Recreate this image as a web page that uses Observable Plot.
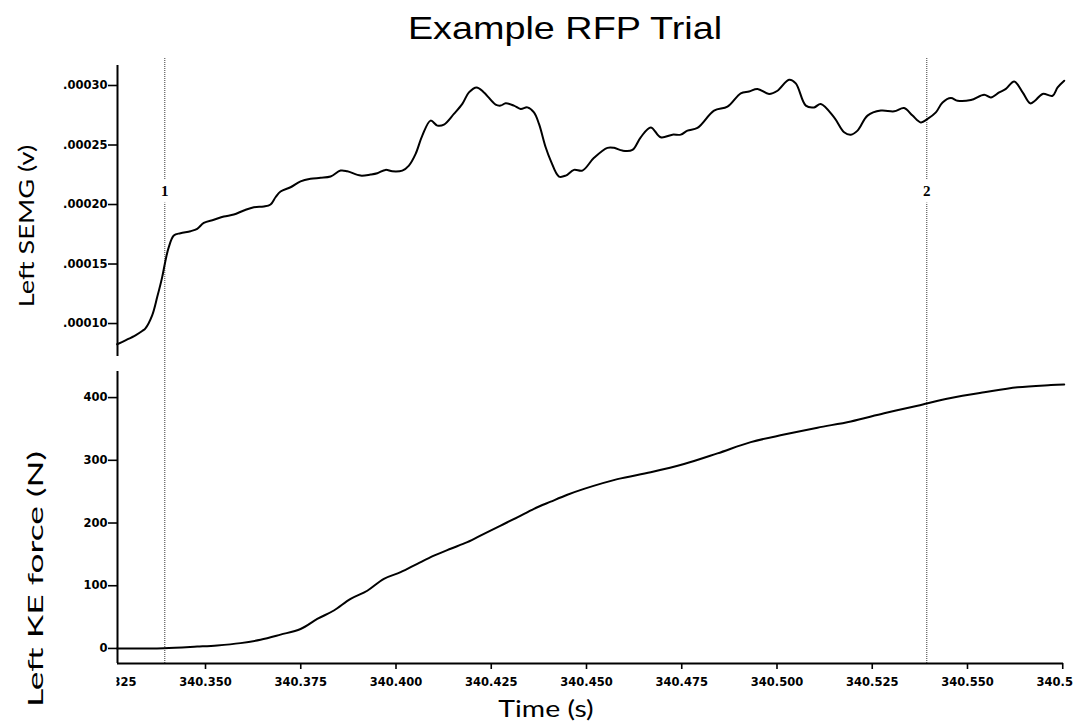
<!DOCTYPE html>
<html><head><meta charset="utf-8">
<script src="https://cdn.jsdelivr.net/npm/d3@7"></script>
<script src="https://cdn.jsdelivr.net/npm/@observablehq/plot@0.6"></script>
<style>
html,body{margin:0;padding:0;background:#fff;}
#wrap{position:relative;width:1073px;height:728px;overflow:hidden;background:#fff;}
.abs{position:absolute;white-space:nowrap;}
#title{font-family:"Liberation Sans",Arial,sans-serif;font-size:32px;line-height:1;color:#000;}
.axt{font-family:Lato,"Open Sans",sans-serif;color:#000;line-height:1;}
</style></head>
<body><div id="wrap">
<div id="title" class="abs">Example RFP Trial</div>
<div id="topChart" class="abs" style="left:0;top:58px"></div>
<div id="botChart" class="abs" style="left:0;top:360px"></div>
<div id="ylab1" class="abs axt" style="font-size:21px">Left SEMG (v)</div>
<div id="ylab2" class="abs axt" style="font-size:22px">Left KE force (N)</div>
<div id="xlab" class="abs axt" style="font-size:23px">Time (s)</div>
</div>
<script>
// ---- data ----
const timeTicks = [340.325, 340.350, 340.375, 340.400, 340.425, 340.450, 340.475, 340.500, 340.525, 340.550, 340.575];
const semgTicks = [0.0001, 0.00015, 0.0002, 0.00025, 0.0003];
const forceTicks = [0, 100, 200, 300, 400];
const markerTimes = [340.3393, 340.5393];
const markerLabels = ["1", "2"];
const timeDomain = [340.3269, 340.5752];
const semgDomain = [0.0000723, 0.0003168];
const forceDomain = [-24, 441.6];

const semgTime = [
 340.32681, 340.32899, 340.33162, 340.33338, 340.33424, 340.33600, 340.33732, 340.33863, 340.33950, 340.34036,
 340.34168, 340.34343, 340.34606, 340.34782, 340.34955, 340.35218, 340.35481, 340.35743, 340.36006, 340.36268,
 340.36531, 340.36707, 340.36838, 340.36970, 340.37232, 340.37495, 340.37757, 340.38020, 340.38283, 340.38545,
 340.38721, 340.39070, 340.39333, 340.39509, 340.39727, 340.39903, 340.40165, 340.40339, 340.40515, 340.40690,
 340.40909, 340.41084, 340.41258, 340.41520, 340.41741, 340.41914, 340.42116, 340.42308, 340.42615, 340.42747,
 340.42878, 340.43096, 340.43272, 340.43448, 340.43621, 340.43753, 340.43928,
 340.44060, 340.44278, 340.44454, 340.44671, 340.44892, 340.45197, 340.45549, 340.45722, 340.45942, 340.46205,
 340.46423, 340.46686, 340.46948, 340.47256, 340.47474, 340.47649, 340.47912, 340.48348, 340.48700, 340.49049,
 340.49267, 340.49488, 340.49792, 340.50013, 340.50317, 340.50493, 340.50756, 340.50974, 340.51150, 340.51499,
 340.51762, 340.51938, 340.52114, 340.52376, 340.52726, 340.53075, 340.53337, 340.53558, 340.53776, 340.53952,
 340.54170, 340.54346, 340.54564, 340.54740, 340.55089, 340.55438, 340.55614, 340.55832, 340.56008, 340.56226,
 340.56447, 340.56646, 340.56770, 340.56972, 340.57234, 340.57366, 340.57539
];
const semgValues = [
 8.26e-5, 8.59e-5, 9.01e-5, 9.37e-5, 9.60e-5, 10.69e-5, 12.22e-5, 13.90e-5, 15.30e-5, 16.42e-5,
 17.40e-5, 17.59e-5, 17.76e-5, 17.96e-5, 18.46e-5, 18.72e-5, 18.99e-5, 19.16e-5, 19.50e-5, 19.77e-5,
 19.83e-5, 20.00e-5, 20.61e-5, 21.09e-5, 21.45e-5, 21.95e-5, 22.16e-5, 22.24e-5, 22.35e-5, 22.85e-5,
 22.79e-5, 22.43e-5, 22.52e-5, 22.63e-5, 22.91e-5, 22.79e-5, 22.85e-5, 23.27e-5, 24.25e-5, 25.79e-5,
 27.05e-5, 26.63e-5, 26.71e-5, 27.61e-5, 28.45e-5, 29.42e-5, 29.84e-5, 29.42e-5, 28.39e-5, 28.31e-5,
 28.50e-5, 28.31e-5, 28.03e-5, 28.16e-5, 27.74e-5, 26.77e-5, 24.81e-5,
 23.69e-5, 22.35e-5, 22.43e-5, 22.91e-5, 22.85e-5, 23.92e-5, 24.76e-5, 24.76e-5, 24.53e-5, 24.59e-5,
 25.65e-5, 26.48e-5, 25.65e-5, 25.87e-5, 25.87e-5, 26.21e-5, 26.43e-5, 27.89e-5, 28.22e-5, 29.34e-5,
 29.50e-5, 29.71e-5, 29.29e-5, 29.56e-5, 30.49e-5, 30.18e-5, 28.31e-5, 28.16e-5, 28.45e-5, 27.32e-5,
 26.07e-5, 25.87e-5, 26.21e-5, 27.47e-5, 27.89e-5, 27.83e-5, 28.11e-5, 27.47e-5, 26.90e-5, 27.19e-5,
 27.74e-5, 28.58e-5, 28.95e-5, 28.72e-5, 28.78e-5, 29.23e-5, 29.00e-5, 29.42e-5, 29.71e-5, 30.34e-5,
 29.42e-5, 28.50e-5, 28.72e-5, 29.29e-5, 29.14e-5, 29.84e-5, 30.40e-5
];

const forceTime = [
 340.32681, 340.33905, 340.34782, 340.35307, 340.35919, 340.36444, 340.36970, 340.37495, 340.37933, 340.38369,
 340.38808, 340.39246, 340.39682, 340.40121, 340.40559, 340.40995, 340.41434, 340.41872, 340.42308, 340.42747,
 340.43185, 340.43621, 340.44060, 340.44498, 340.44934, 340.45811, 340.46686, 340.47560, 340.48437, 340.49312,
 340.50186, 340.51063, 340.51938, 340.52812, 340.53689, 340.53952, 340.54564, 340.55438, 340.56315, 340.57190,
 340.57539
];
const forceValues = [
 0, 0.5, 3, 4.8, 8.5, 13.8, 22, 31, 47, 60.5,
 79, 92, 111, 121.6, 135, 148, 159, 169.4, 182.8, 196,
 209, 222.6, 234, 245, 254.4, 270, 281, 294, 311, 329,
 341, 352, 362, 375, 387, 391, 399.5, 408.5, 416.5, 420,
 421
];

// ---- charts ----
const W = 1073;
const baseStyle = {background: "transparent", fontFamily: "'DejaVu Sans', sans-serif", fontSize: "11.5px", fontWeight: "bold", color: "#000", overflow: "visible"};
const markerStyle = {stroke: "#666", strokeWidth: 1.3, strokeDasharray: "1,1"};

const topChart = Plot.plot({
  width: W, height: 302,
  marginLeft: 117, marginRight: 10, marginTop: 0, marginBottom: 0,
  style: baseStyle,
  x: {domain: timeDomain, axis: null},
  y: {domain: semgDomain, range: [298, 7], axis: null},
  marks: [
    Plot.ruleX(markerTimes, markerStyle),
    Plot.text(markerLabels, {x: markerTimes, text: d => d, frameAnchor: "top", dy: 127,
      fill: "#000", stroke: "#fff", strokeWidth: 13, paintOrder: "stroke",
      fontFamily: "'Liberation Serif', serif", fontSize: 15, fontWeight: "bold"}),
    Plot.ruleX([timeDomain[0]], {y1: semgDomain[0], y2: semgDomain[1], stroke: "#000", strokeWidth: 2}),
    Plot.axisY({ticks: semgTicks, tickFormat: d => d3.format(".5f")(d).replace(/^0/, ""),
      tickSize: 9, tickPadding: 1, strokeWidth: 1.6, label: null}),
    Plot.line(semgValues, {x: semgTime, y: semgValues, curve: "catmull-rom", stroke: "#000", strokeWidth: 2})
  ]
});
document.getElementById("topChart").appendChild(topChart);

const botChart = Plot.plot({
  width: W, height: 368,
  marginLeft: 117, marginRight: 10, marginTop: 0, marginBottom: 65,
  style: baseStyle,
  x: {domain: timeDomain, axis: null},
  y: {domain: forceDomain, range: [303, 11], axis: null},
  marks: [
    Plot.ruleX(markerTimes, markerStyle),
    Plot.ruleX([timeDomain[0]], {y1: forceDomain[0], y2: forceDomain[1], stroke: "#000", strokeWidth: 2}),
    Plot.ruleY([forceDomain[0]], {x1: timeDomain[0], x2: timeDomain[1], stroke: "#000", strokeWidth: 2}),
    Plot.axisY({ticks: forceTicks, tickSize: 9, tickPadding: 1, strokeWidth: 1.6, label: null}),
    Plot.axisX({ticks: timeTicks, tickFormat: d3.format(".3f"), tickSize: 6, tickPadding: 8, strokeWidth: 1.6, label: null}),
    Plot.line(forceValues, {x: forceTime, y: forceValues, curve: "catmull-rom", stroke: "#000", strokeWidth: 2})
  ]
});
document.getElementById("botChart").appendChild(botChart);

// clip the x-axis ticks on the left like the original export
(function () {
  const svg = botChart.tagName.toLowerCase() === "svg" ? botChart : botChart.querySelector("svg");
  const ns = "http://www.w3.org/2000/svg";
  const cp = document.createElementNS(ns, "clipPath");
  cp.setAttribute("id", "xclip");
  const r = document.createElementNS(ns, "rect");
  r.setAttribute("x", 116); r.setAttribute("y", -1000);
  r.setAttribute("width", W); r.setAttribute("height", 3000);
  cp.appendChild(r);
  svg.insertBefore(cp, svg.firstChild);
  svg.querySelectorAll('g[aria-label="x-axis tick"], g[aria-label="x-axis tick label"]')
     .forEach(g => g.setAttribute("clip-path", "url(#xclip)"));
})();

// ---- titles ----
function place(id, cx, cy, rot, len) {
  const el = document.getElementById(id);
  const w = el.offsetWidth;
  const k = len / w;
  el.style.left = cx + "px";
  el.style.top = cy + "px";
  el.style.transform = `translate(-50%,-50%) rotate(${rot}deg) scaleX(${k})`;
}
place("title", 565, 28, 0, 314);
place("ylab1", 25, 226, -90, 163);
place("ylab2", 35, 579, -90, 256);
place("xlab", 545.5, 708, 0, 95);
</script>
</body></html>
